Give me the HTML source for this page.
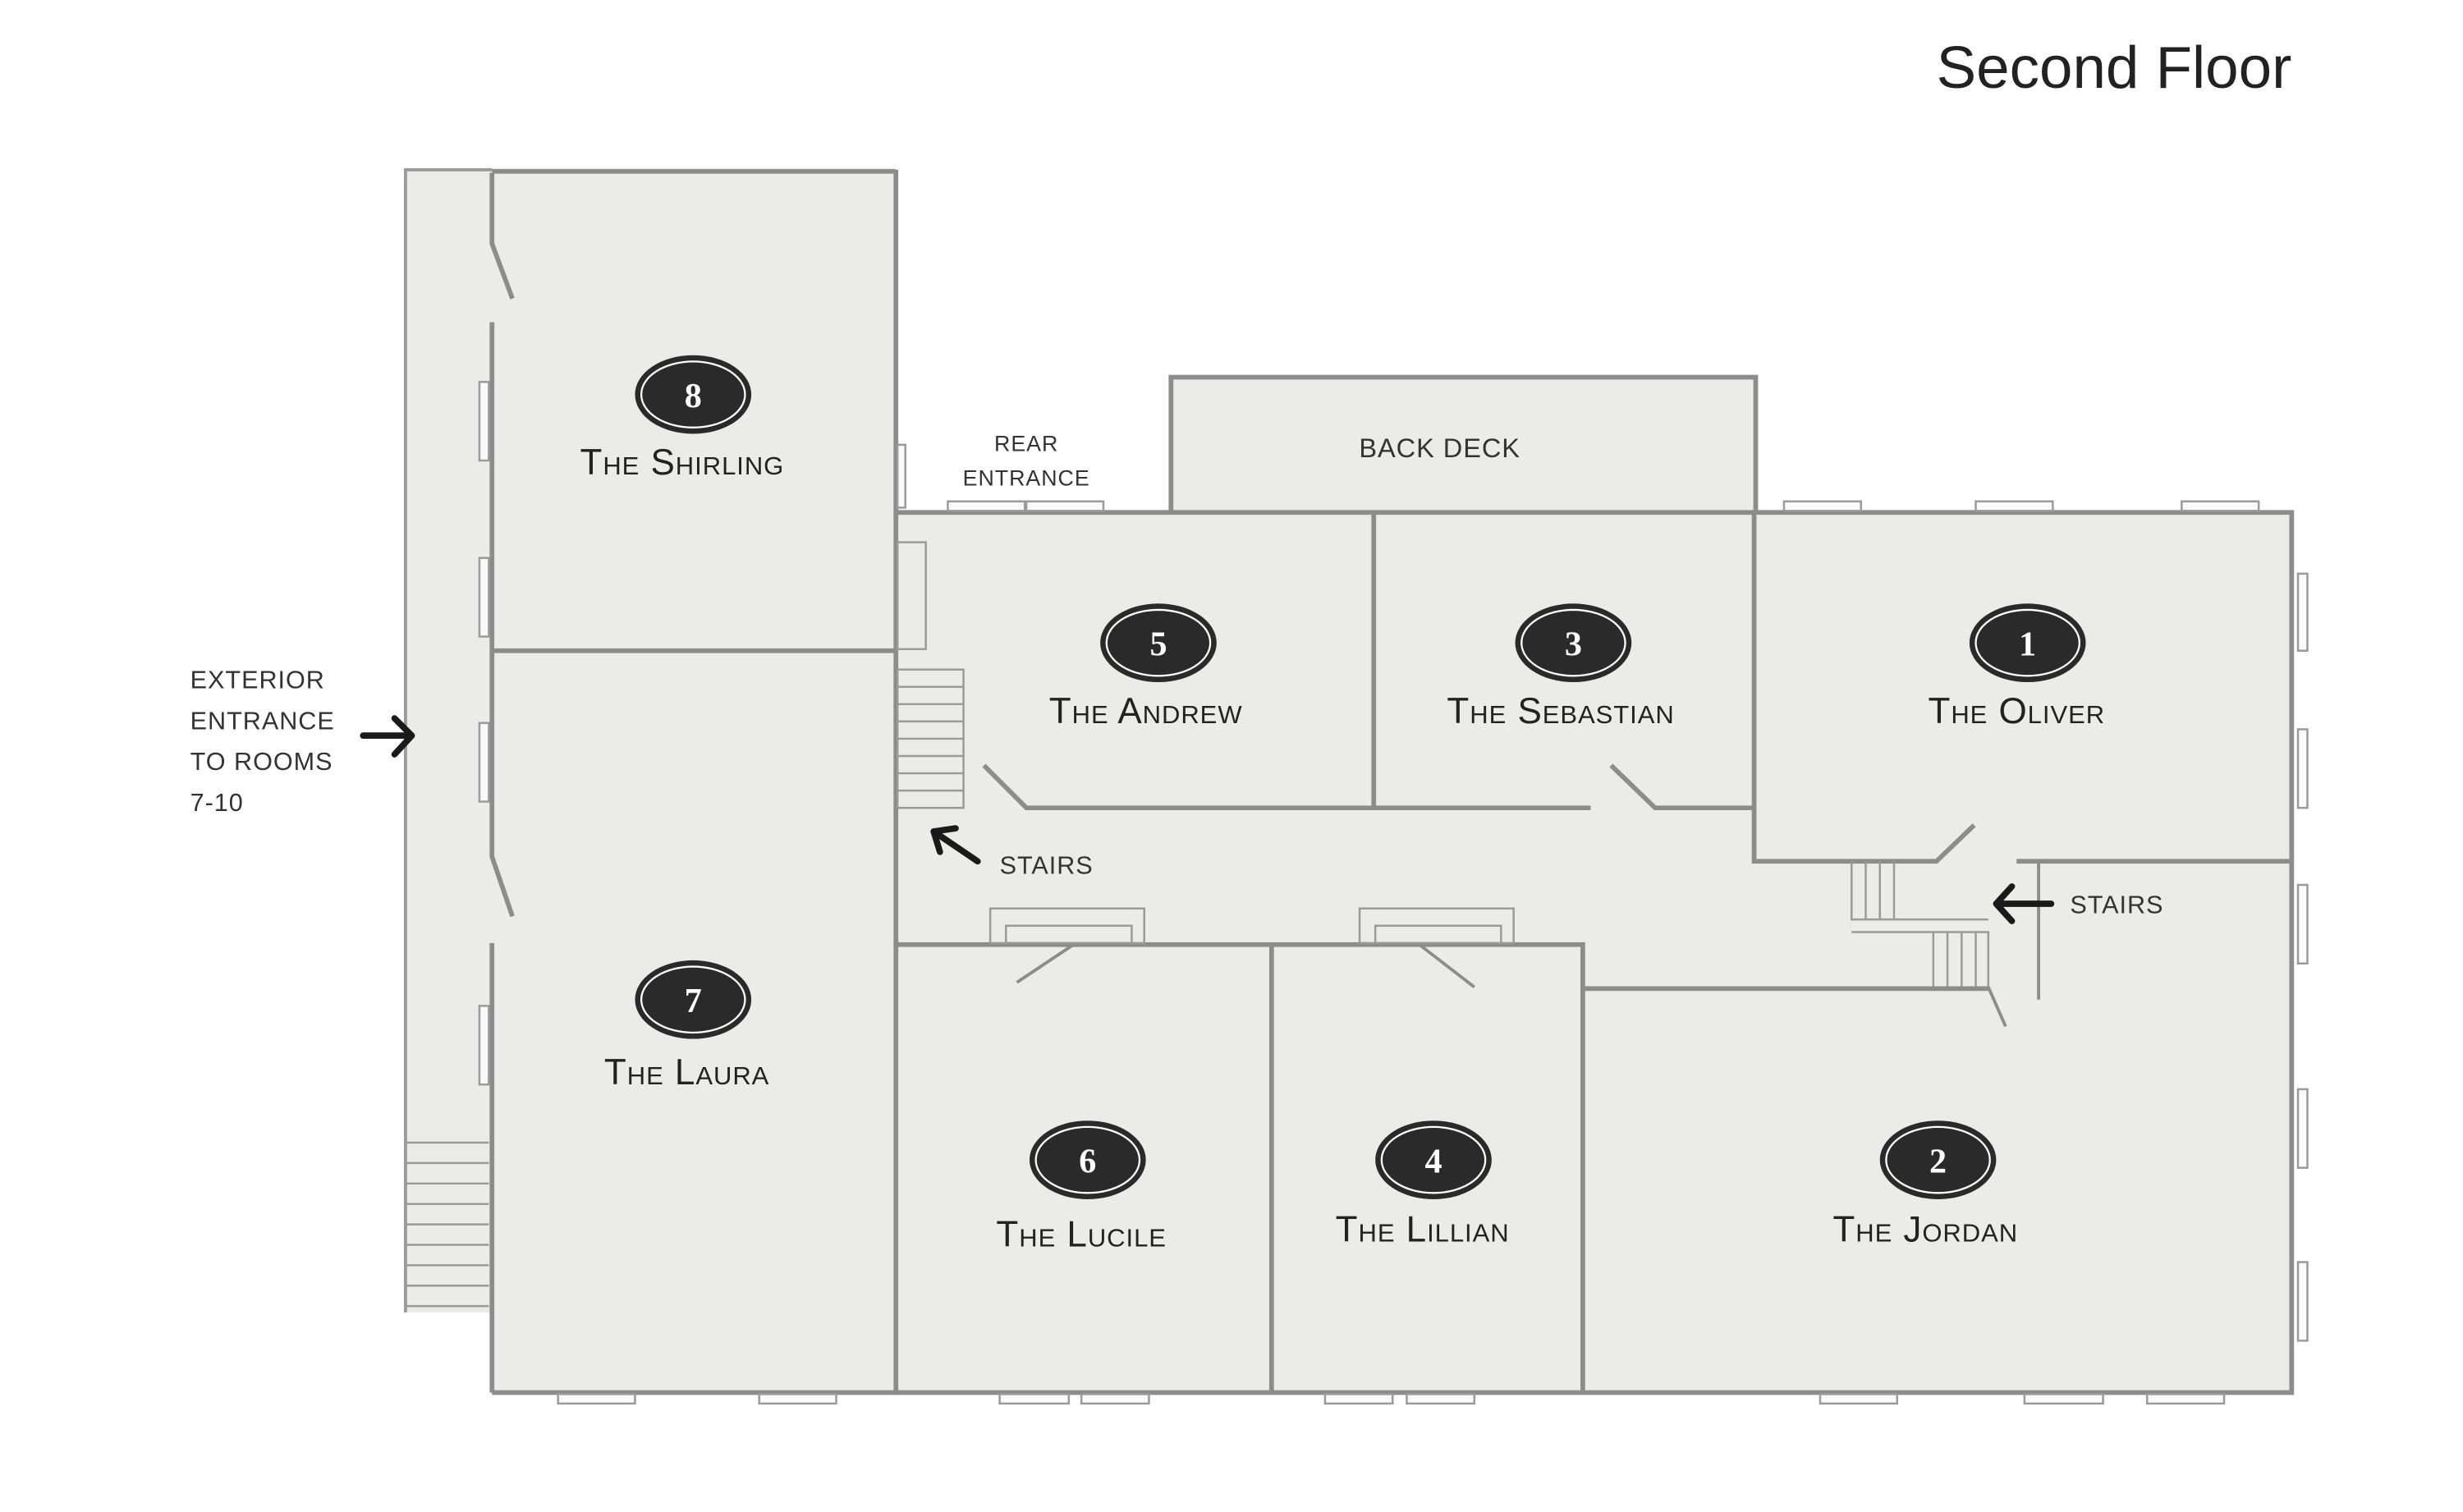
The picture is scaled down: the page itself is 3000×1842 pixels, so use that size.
<!DOCTYPE html>
<html><head><meta charset="utf-8"><style>
html,body{margin:0;padding:0;background:#fff;}
svg{display:block;}
.w{stroke:#8c8c8c;stroke-width:3;fill:none;}
.t{stroke:#9a9a9a;stroke-width:1.3;fill:#fafafa;}
.l{stroke:#9a9a9a;stroke-width:1.3;fill:none;}
.rm{font-family:"Liberation Sans",sans-serif;font-variant:small-caps;font-size:23px;fill:#222;letter-spacing:0.5px;text-anchor:middle;}
.sm{font-family:"Liberation Sans",sans-serif;font-size:16px;fill:#333;letter-spacing:0.5px;}
.num{font-family:"Liberation Serif",serif;font-weight:bold;font-size:22px;fill:#fff;text-anchor:middle;}
</style></head><body>
<svg width="3000" height="1842" viewBox="0 0 1567 962" preserveAspectRatio="none" xmlns="http://www.w3.org/2000/svg">
<rect width="1567" height="962" fill="#fff"/>
<text x="1458" y="56" text-anchor="end" font-family="Liberation Sans, sans-serif" font-size="38" fill="#222">Second Floor</text>

<rect x="258" y="108" width="312" height="727" fill="#ebebe9"/>
<rect x="313" y="110" width="257" height="776" fill="#ebebe9"/>
<rect x="570" y="326" width="888" height="560" fill="#ebebe9"/>
<rect x="745" y="240" width="372" height="86" fill="#ebebe9"/>

<path class="l" d="M258 835 V108 H313" style="stroke-width:2"/>
<line class="w" x1="313" y1="109" x2="570" y2="109"/>
<path class="w" d="M313 110 V155 L326 190"/>
<path class="w" d="M313 205 V545 L326 583"/>
<path class="w" d="M313 600 V886"/>
<rect class="t" x="305" y="243" width="6" height="50"/>
<rect class="t" x="305" y="355" width="6" height="50"/>
<rect class="t" x="305" y="460" width="6" height="50"/>
<rect class="t" x="305" y="640" width="6" height="50"/>
<g class="l">
<path d="M258 727 H311 M258 740 H311 M258 753 H311 M258 766 H311 M258 779 H311 M258 792 H311 M258 805 H311 M258 818 H311 M258 831 H311"/>
</g>

<path class="w" d="M570 108 V886 H313"/>
<line class="w" x1="313" y1="414" x2="570" y2="414"/>
<rect class="t" x="571" y="283" width="5" height="40"/>

<path class="w" d="M570 326 H1458 V886 H570"/>
<path class="w" d="M745 326 V240 H1117 V326"/>
<path class="w" d="M874 326 V514 H653 L626 487"/>
<rect class="l" x="571" y="345" width="18" height="68"/>
<g class="l">
<rect x="571" y="426" width="42" height="88"/>
<path d="M571 437 H613 M571 448 H613 M571 459 H613 M571 470 H613 M571 481 H613 M571 492 H613 M571 503 H613"/>
</g>
<path class="w" d="M874 514 H1012"/>
<path class="w" d="M1116 326 V514 H1053 L1025 487"/>
<path class="w" d="M1116 514 V548 H1232 L1256 525"/>
<path class="w" d="M1283 548 H1458"/>
<path class="w" d="M1297 548 V636" style="stroke-width:2"/>
<g class="l">
<path d="M1178 548 V585 H1265 M1187 548 V585 M1196 548 V585 M1205 548 V585"/>
<path d="M1178 593 H1265 V628 M1230 593 V628 M1239 593 V628 M1248 593 V628 M1257 593 V628"/>
</g>
<path class="w" d="M1265 628 L1276 653" style="stroke-width:2"/>
<path class="w" d="M1007 629 H1265"/>
<path class="w" d="M570 601 H1007 V886"/>
<path class="w" d="M809 601 V886"/>
<rect class="t" x="630" y="578" width="98" height="22" style="fill:#ebebe9"/>
<rect class="l" x="640" y="589" width="80" height="11"/>
<rect class="t" x="865" y="578" width="98" height="22" style="fill:#ebebe9"/>
<rect class="l" x="875" y="589" width="80" height="11"/>
<line x1="683" y1="601" x2="647" y2="625" stroke="#8c8c8c" stroke-width="2"/>
<line x1="903" y1="601" x2="938" y2="628" stroke="#8c8c8c" stroke-width="2"/>

<g class="t">
<rect x="603" y="319" width="49" height="6"/><rect x="653" y="319" width="49" height="6"/>
<rect x="1135" y="319" width="49" height="6"/><rect x="1257" y="319" width="49" height="6"/><rect x="1388" y="319" width="49" height="6"/>
<rect x="1462" y="365" width="6" height="49"/><rect x="1462" y="464" width="6" height="50"/><rect x="1462" y="563" width="6" height="50"/><rect x="1462" y="693" width="6" height="50"/><rect x="1462" y="803" width="6" height="50"/>
<rect x="355" y="887" width="49" height="6"/><rect x="483" y="887" width="49" height="6"/>
<rect x="636" y="887" width="44" height="6"/><rect x="688" y="887" width="43" height="6"/>
<rect x="843" y="887" width="43" height="6"/><rect x="895" y="887" width="43" height="6"/>
<rect x="1158" y="887" width="49" height="6"/><rect x="1288" y="887" width="50" height="6"/><rect x="1366" y="887" width="49" height="6"/>
</g>

<g>
<g transform="translate(441,251)"><ellipse rx="37" ry="25" fill="#2a2a2a"/><ellipse rx="33" ry="21" fill="none" stroke="#fff" stroke-width="1.2"/><text y="8" class="num">8</text></g>
<g transform="translate(441,636)"><ellipse rx="37" ry="25" fill="#2a2a2a"/><ellipse rx="33" ry="21" fill="none" stroke="#fff" stroke-width="1.2"/><text y="8" class="num">7</text></g>
<g transform="translate(737,409)"><ellipse rx="37" ry="25" fill="#2a2a2a"/><ellipse rx="33" ry="21" fill="none" stroke="#fff" stroke-width="1.2"/><text y="8" class="num">5</text></g>
<g transform="translate(1001,409)"><ellipse rx="37" ry="25" fill="#2a2a2a"/><ellipse rx="33" ry="21" fill="none" stroke="#fff" stroke-width="1.2"/><text y="8" class="num">3</text></g>
<g transform="translate(1290,409)"><ellipse rx="37" ry="25" fill="#2a2a2a"/><ellipse rx="33" ry="21" fill="none" stroke="#fff" stroke-width="1.2"/><text y="8" class="num">1</text></g>
<g transform="translate(692,738)"><ellipse rx="37" ry="25" fill="#2a2a2a"/><ellipse rx="33" ry="21" fill="none" stroke="#fff" stroke-width="1.2"/><text y="8" class="num">6</text></g>
<g transform="translate(912,738)"><ellipse rx="37" ry="25" fill="#2a2a2a"/><ellipse rx="33" ry="21" fill="none" stroke="#fff" stroke-width="1.2"/><text y="8" class="num">4</text></g>
<g transform="translate(1233,738)"><ellipse rx="37" ry="25" fill="#2a2a2a"/><ellipse rx="33" ry="21" fill="none" stroke="#fff" stroke-width="1.2"/><text y="8" class="num">2</text></g>
</g>

<text class="rm" x="434" y="302">The Shirling</text>
<text class="rm" x="437" y="690">The Laura</text>
<text class="rm" x="729" y="460">The Andrew</text>
<text class="rm" x="993" y="460">The Sebastian</text>
<text class="rm" x="1283" y="460">The Oliver</text>
<text class="rm" x="688" y="793">The Lucile</text>
<text class="rm" x="905" y="790">The Lillian</text>
<text class="rm" x="1225" y="790">The Jordan</text>

<text class="sm" x="121" y="438">EXTERIOR</text>
<text class="sm" x="121" y="464">ENTRANCE</text>
<text class="sm" x="121" y="490">TO ROOMS</text>
<text class="sm" x="121" y="516">7-10</text>
<text class="sm" x="653" y="287" text-anchor="middle" style="font-size:14px">REAR</text>
<text class="sm" x="653" y="309" text-anchor="middle" style="font-size:14px">ENTRANCE</text>
<text class="sm" x="916" y="291" text-anchor="middle" style="font-size:17px">BACK DECK</text>
<text class="sm" x="636" y="556">STAIRS</text>
<text class="sm" x="1317" y="581">STAIRS</text>

<g stroke="#1a1a1a" stroke-width="4" fill="none" stroke-linecap="round" stroke-linejoin="round">
<path d="M231 468 H262 M251 457 L262 468 L251 480"/>
<path d="M622 548 L594 529 M594 529 L608 527 M594 529 L598 542"/>
<path d="M1305 575 H1270 M1280 564 L1270 575 L1280 586"/>
</g>
</svg>
</body></html>
